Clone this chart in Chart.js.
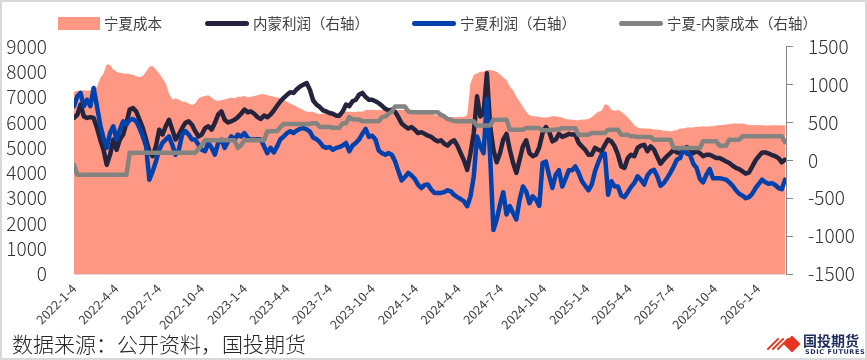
<!DOCTYPE html>
<html><head><meta charset="utf-8">
<script src="https://cdn.jsdelivr.net/npm/chart.js@4.4.0/dist/chart.umd.min.js"></script>
<style>
html,body{margin:0;padding:0;background:#fff;}
#wrap{position:relative;width:867px;height:360px;overflow:hidden;font-family:"Noto Sans CJK SC","Noto Sans",sans-serif;background:#fff;}
#c{position:absolute;left:0;top:0;}
.frame{position:absolute;left:0;top:0;width:867px;height:360px;box-sizing:border-box;border:2px solid #d9d9d9;pointer-events:none;}
.lgt{position:absolute;top:14px;font-size:14.5px;line-height:18px;color:#404040;white-space:nowrap;font-weight:400;}
.sw{position:absolute;}
.foot{position:absolute;left:12px;top:330px;font-size:21px;line-height:26px;color:#262626;font-weight:300;white-space:nowrap;}
.logo1{position:absolute;left:803px;top:332px;font-size:14px;line-height:17px;font-weight:700;color:#1f2d5e;white-space:nowrap;}
.logo2{position:absolute;left:805px;top:348px;font-size:6.5px;line-height:8px;font-weight:700;color:#1f2d5e;letter-spacing:0.6px;white-space:nowrap;font-family:"DejaVu Sans",sans-serif;}
.dia{position:absolute;left:786px;top:338px;width:12px;height:12px;background:#e8331f;transform:rotate(45deg);}
.str{position:absolute;width:2px;height:16px;background:#e8331f;transform:rotate(45deg);}
</style>
</head><body>
<div id="wrap">
<canvas id="c" width="867" height="360"></canvas>
<div id="legend"></div>
<div class="foot">数据来源：公开资料，国投期货</div>
<div class="str" style="left:772px;top:336px;"></div>
<div class="str" style="left:777px;top:336px;"></div>
<div class="str" style="left:782px;top:336px;"></div>
<div class="dia"></div>
<div class="logo1">国投期货</div>
<div class="logo2">SDIC FUTURES</div>
<div class="frame"></div>
</div>
<script>
// ---- data (weekly observations starting 2022-01-04) ----
const startDate = '2022-01-04';
const seriesNames = ['宁夏成本', '内蒙利润（右轴）', '宁夏利润（右轴）', '宁夏-内蒙成本（右轴）'];
const tickLabels = ['2022-1-4','2022-4-4','2022-7-4','2022-10-4','2023-1-4','2023-4-4','2023-7-4','2023-10-4',
  '2024-1-4','2024-4-4','2024-7-4','2024-10-4','2025-1-4','2025-4-4','2025-7-4','2025-10-4','2026-1-4'];

const nxCost = [
7220,7260,7260,7280,7260,7280,7300,7400,7750,7940,
8310,8275,8100,8010,7970,7940,7940,7920,7880,7840,
7790,7840,8010,8210,8235,8100,7940,7750,7550,7150,
6910,6950,6910,6820,6820,6750,6690,6750,6950,7020,
7050,7080,6990,6880,6860,6880,6910,6950,6990,6950,
7020,7020,7050,6990,7020,7050,7080,7120,7120,7080,
7050,7020,6990,6950,6880,6820,6750,6690,6620,6550,
6490,6420,6420,6420,6355,6340,6355,6370,6355,6340,
6355,6380,6420,6430,6420,6410,6420,6430,6420,6490,
6490,6500,6490,6480,6490,6500,6490,6490,6480,6490,
6490,6490,6420,6420,6430,6420,6410,6420,6420,6420,
6290,6290,6300,6290,6220,6220,6210,6220,6230,6220,
6300,7550,7880,7940,8010,8010,8080,8080,8050,8010,
7900,7780,7680,7410,7280,7020,6820,6620,6420,6290,
6250,6250,6220,6200,6200,6220,6250,6250,6220,6200,
6140,6117,6117,6090,6090,6117,6117,6140,6220,6330,
6420,6460,6725,6690,6490,6460,6490,6420,6330,6200,
6060,5890,5800,5770,5760,5760,5750,5720,5720,5700,
5670,5670,5640,5670,5700,5760,5760,5800,5800,5800,
5830,5830,5850,5830,5850,5850,5880,5890,5900,5920,
5930,5960,5960,5950,5960,5930,5900,5890,5890,5900,
5890,5880,5880,5890,5890,5890,5890,5890];

const nmProfit = [
560,600,735,580,560,570,560,430,275,140,
-60,75,275,140,275,340,495,670,690,645,
535,425,275,120,55,185,405,340,450,535,
405,275,340,425,495,515,470,385,315,340,
425,450,405,495,605,645,535,500,515,535,
570,615,670,635,645,615,570,545,590,570,
605,660,720,780,825,865,900,890,940,975,
1000,1020,930,790,735,705,660,645,625,615,
590,590,645,735,715,780,800,865,890,835,
800,800,780,755,720,680,660,670,640,570,
485,450,420,440,405,360,370,350,325,310,
275,250,265,220,195,240,265,195,95,0,
-125,95,360,845,580,625,1150,450,140,-25,
95,275,350,140,-35,-165,10,185,265,95,
55,75,175,360,440,380,250,275,350,310,
325,350,340,340,230,185,140,75,75,165,
140,120,205,275,250,185,75,-80,-100,30,
75,55,165,195,205,120,185,140,45,-45,
10,55,95,140,105,95,140,175,140,95,
120,95,55,75,75,55,30,30,10,-15,
-35,-70,-100,-115,-145,-175,-160,-80,0,55,
105,105,90,70,55,30,-25,10];

const nxProfit = [
715,845,890,715,800,715,955,715,470,295,
165,360,450,275,405,515,470,535,545,515,
425,315,185,-255,-145,-15,140,230,275,315,
205,75,140,340,385,340,275,275,205,140,
120,230,165,75,230,275,165,250,315,275,
340,315,360,295,275,275,280,275,185,95,
165,105,185,280,315,360,385,360,395,415,
425,410,380,300,280,240,185,165,175,140,
165,175,195,230,120,195,230,275,350,415,
310,325,275,130,95,75,95,75,-15,-145,
-265,-220,-165,-200,-245,-320,-365,-325,-320,-385,
-430,-430,-430,-420,-395,-410,-455,-485,-510,-540,
-605,-475,-210,315,185,95,810,50,-920,-780,
-585,-420,-715,-605,-695,-780,-520,-345,-410,-565,
-475,-520,-600,-35,-15,-200,-365,-190,-130,-345,
-245,-130,-130,-80,-165,-275,-335,-395,-320,-145,
-25,75,90,-455,-275,-345,-345,-465,-485,-420,
-350,-300,-210,-255,-320,-200,-145,-125,-210,-335,
-300,-235,-165,-80,10,30,160,90,75,-45,
-100,-245,-290,-190,-115,-235,-235,-235,-245,-255,
-290,-335,-395,-440,-465,-500,-485,-440,-365,-310,
-255,-290,-310,-300,-325,-365,-380,-255];

const costSpread = [
-60,-190,-190,-190,-190,-190,-190,-190,-190,-190,
-190,-190,-190,-190,-190,-190,-190,100,100,100,
100,100,100,100,100,100,100,100,100,100,
100,100,100,100,100,100,100,100,150,200,
265,265,265,265,265,265,265,265,265,265,
165,200,265,265,265,265,265,265,265,385,
385,385,385,440,480,480,480,480,480,480,
480,480,480,490,490,440,440,440,440,430,
430,430,490,490,570,540,540,540,515,515,
515,515,515,520,570,580,615,645,710,710,
710,710,645,635,635,635,635,635,635,635,
635,635,600,580,545,537,515,515,515,515,
515,515,515,460,460,460,460,460,537,537,
537,537,537,405,405,405,405,405,427,427,
427,427,427,396,396,396,405,405,410,425,
425,425,425,425,339,339,339,339,361,361,
361,361,361,405,405,405,405,339,339,339,
317,317,308,308,308,308,308,273,273,273,
273,273,273,163,163,163,163,163,163,163,
163,163,251,251,251,251,251,194,194,194,
273,273,273,273,317,317,317,317,317,317,
317,317,317,317,317,317,317,240];

// ---- helpers ----
const DAY = 86400000;
function dayOf(s){ const p = s.split('-').map(Number); return Math.round((Date.UTC(p[0],p[1]-1,p[2]) - Date.UTC(2022,0,4))/DAY); }
const tickDays = tickLabels.map(dayOf);
const toPts = arr => arr.map((v,i)=>({x: i*7, y: v}));

const COLORS = ['#FE9884', '#24243F', '#0042AD', '#838380'];
const FONT = '"Noto Sans CJK SC","Noto Sans",sans-serif';

// HTML legend
(function(){
  const lg = document.getElementById('legend');
  const items = [
    {sw:{left:58, top:17, w:42, h:13, r:0}, text:104},
    {sw:{left:205, top:20.5, w:44, h:5, r:3}, text:253},
    {sw:{left:412, top:20.5, w:44, h:5, r:3}, text:460},
    {sw:{left:619, top:20.5, w:44, h:5, r:3}, text:667}
  ];
  items.forEach((it,i)=>{
    const s = document.createElement('div');
    s.className='sw';
    s.style.cssText = `left:${it.sw.left}px;top:${it.sw.top}px;width:${it.sw.w}px;height:${it.sw.h}px;border-radius:${it.sw.r}px;background:${COLORS[i]};`;
    lg.appendChild(s);
    const t = document.createElement('div');
    t.className='lgt'; t.style.left = it.text+'px'; t.textContent = seriesNames[i];
    lg.appendChild(t);
  });
})();

const lineDs = (i, arr, order) => ({
  label: seriesNames[i], data: toPts(arr), yAxisID:'y1', borderColor: COLORS[i], backgroundColor: COLORS[i],
  borderWidth: 4.5, pointRadius: 0, fill: false, tension: 0, order: order,
  borderJoinStyle:'round', borderCapStyle:'round'
});

new Chart(document.getElementById('c'), {
  type: 'line',
  data: { datasets: [
    { label: seriesNames[0], data: toPts(nxCost), yAxisID:'y', fill:'origin', backgroundColor: COLORS[0],
      borderColor: COLORS[0], borderWidth: 0, pointRadius: 0, tension: 0, order: 4 },
    lineDs(1, nmProfit, 3),
    lineDs(2, nxProfit, 2),
    lineDs(3, costSpread, 1)
  ]},
  options: {
    responsive: false, animation: false, devicePixelRatio: 1,
    layout: { padding: { top: 46.7, left: 0, right: 0, bottom: 0 } },
    plugins: { legend: { display: false }, tooltip: { enabled: false } },
    scales: {
      x: {
        type: 'linear', min: 0, max: 1521,
        afterBuildTicks: s => { s.ticks = tickDays.map(v => ({ value: v })); },
        afterFit: s => { s.height = 86; },
        ticks: { autoSkip: false, minRotation: 45, maxRotation: 45, padding: 7, color: '#404040',
          font: { family: FONT, size: 12.5 },
          callback: v => { const i = tickDays.indexOf(v); return i >= 0 ? tickLabels[i] : ''; } },
        grid: { display: true, drawOnChartArea: false, drawTicks: false },
        border: { display: true, color: '#d9d9d9', width: 1 }
      },
      y: {
        position: 'left', min: 0, max: 9000,
        afterFit: s => { s.width = 74; },
        ticks: { stepSize: 1000, autoSkip: false, padding: 27, color: '#333333', font: { family: FONT, size: 19, weight: 300, lineHeight: 1 },
          callback: v => String(v) },
        grid: { display: false, drawTicks: false },
        border: { display: false }
      },
      y1: {
        position: 'right', min: -1500, max: 1500,
        afterFit: s => { s.width = 81; },
        ticks: { stepSize: 500, autoSkip: false, padding: 15, color: '#333333', font: { family: FONT, size: 19, weight: 300, lineHeight: 1 },
          callback: v => String(v) },
        grid: { display: true, drawOnChartArea: false, drawTicks: true, tickLength: 7, color: '#868686' },
        border: { display: true, color: '#868686', width: 1 }
      }
    }
  }
});
</script>
</body></html>
